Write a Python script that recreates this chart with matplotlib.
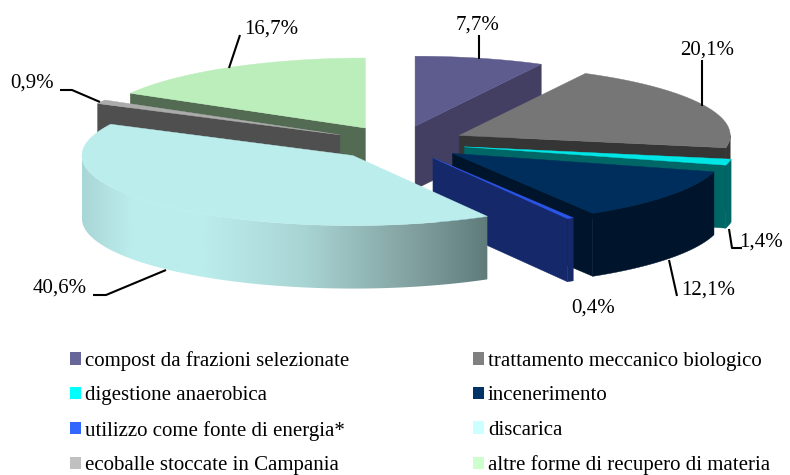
import numpy as np
import matplotlib
matplotlib.use("Agg")
import matplotlib.pyplot as plt
from matplotlib.colors import LinearSegmentedColormap
from matplotlib.patches import Patch, Polygon

# ---- data
categories = ["compost da frazioni selezionate", "trattamento meccanico biologico",
              "digestione anaerobica", "incenerimento", "utilizzo come fonte di energia*",
              "discarica", "ecoballe stoccate in Campania", "altre forme di recupero di materia"]
values = [7.7, 20.1, 1.4, 12.1, 0.4, 40.6, 0.9, 16.7]

# ---- styles
legend_colors = ["#666699", "#808080", "#00FFFF", "#003366", "#3366FF", "#CCFFFF", "#C0C0C0", "#CCFFCC"]
top_colors = ["#5E5C8E", "#767676", "#00E6E6", "#002E5C", "#2B55E8", "#BBEDEC", "#ABABAB", "#BBEEBB"]
side_colors = ["#423F62", "#353535", "#006666", "#00142B", "#14286A", "#BBEDEC", "#4F4F4F", "#526B52"]
draw_order = [0, 7, 6, 1, 2, 3, 4, 5]
legend_order = [0, 2, 4, 6, 1, 3, 5, 7]
FONT = "Liberation Serif"

# ---- layout (pixels)
W, H = 790, 475
CX, CY, RX, RY = 399, 143, 271, 70
DEPTH = 63 / RY
EXPLODE = 67 / RX
label_pos = [(478, 25), (707, 50), (761, 242), (708, 290), (593, 308), (60, 288), (32, 83), (271, 29)]
leaders = [[(479, 35), (479, 59)], [(702, 60), (702, 106)], [(729, 229), (732, 248), (742, 248)],
           [(669, 260), (677, 296)], None, [(166, 270), (106, 295), (93, 295)],
           [(100, 102), (72, 90), (60, 90)], [(240, 35), (229, 68)]]

fig = plt.figure(figsize=(W / 100, H / 100), dpi=100)
ax = fig.add_axes([0, 0, 1, 1])
ax.axis("off")
xlim = (-CX / RX, (W - CX) / RX)
ylim = ((CY - H) / RY, CY / RY)


def px(p):
    return (p[0] - CX) / RX, (CY - p[1]) / RY


def arc(ox, oy, a, b):
    t = np.radians(np.linspace(a, b, max(int(abs(b - a) * 2), 2)))
    return np.column_stack([ox + np.sin(t), oy + np.cos(t)])


def poly(pts, color, z):
    ax.add_patch(Polygon(pts, closed=True, facecolor=color, edgecolor=color, lw=0.3, zorder=z))


edges = np.concatenate([[0], np.cumsum(values)]) / np.sum(values) * 360
grad = LinearSegmentedColormap.from_list("rim", [(0, "#A9D6D6"), (0.12, "#BBEDEC"), (0.3, "#BBEDEC"),
                                                  (0.55, "#A9D4D4"), (0.83, "#7F9E9D"), (1, "#5F7C7B")])

for z, i in enumerate(draw_order):
    a, b = edges[i], edges[i + 1]
    mid = np.radians((a + b) / 2)
    ox, oy = EXPLODE * np.sin(mid), EXPLODE * np.cos(mid)
    apex = np.array([ox, oy])
    down = np.array([0, DEPTH])
    zz = z * 3 + 1
    # visible cut faces
    for ang, visible in ((a, np.sin(np.radians(a)) < -1e-6), (b, np.sin(np.radians(b)) > 1e-6)):
        if visible:
            tip = apex + [np.sin(np.radians(ang)), np.cos(np.radians(ang))]
            poly([apex, tip, tip - down, apex - down], side_colors[i], zz)
    # outer rim, front half only
    ra, rb = max(a, 90), min(b, 270)
    if rb > ra:
        upper = arc(ox, oy, ra, rb)
        rim = np.vstack([upper, (upper - down)[::-1]])
        if i == 5:
            patch = Polygon(rim, closed=True, facecolor="none", edgecolor="none", zorder=zz + 1)
            ax.add_patch(patch)
            im = ax.imshow(np.linspace(0, 1, 256)[None, :], cmap=grad, aspect="auto",
                           extent=(rim[:, 0].min(), rim[:, 0].max(), rim[:, 1].min(), rim[:, 1].max()),
                           zorder=zz + 1)
            im.set_clip_path(patch)
        else:
            poly(rim, side_colors[i], zz + 1)
    # top face
    poly(np.vstack([apex, arc(ox, oy, a, b)]), top_colors[i], zz + 2)

ax.set_xlim(*xlim)
ax.set_ylim(*ylim)

for v, p, ld in zip(values, label_pos, leaders):
    ax.text(*px(p), f"{v:.1f}%".replace(".", ","), family=FONT, fontsize=15, color="black",
            ha="center", va="center", zorder=50)
    if ld is not None:
        pts = np.array([px(q) for q in ld])
        ax.plot(pts[:, 0], pts[:, 1], color="black", lw=1.5, zorder=49, solid_capstyle="butt")

handles = [Patch(facecolor=legend_colors[i], edgecolor="none") for i in legend_order]
labels = [categories[i] for i in legend_order]
leg = fig.legend(handles, labels, ncol=2, loc="upper left", bbox_to_anchor=(70 / W, 1 - 351 / H),
                 bbox_transform=fig.transFigure, frameon=False, borderpad=0, borderaxespad=0,
                 prop={"family": FONT, "size": 15}, handlelength=0.53, handleheight=0.53,
                 handletextpad=0.19, labelspacing=0.74, columnspacing=5.93)
leg.set_zorder(60)

fig.savefig("out.png", dpi=100)
